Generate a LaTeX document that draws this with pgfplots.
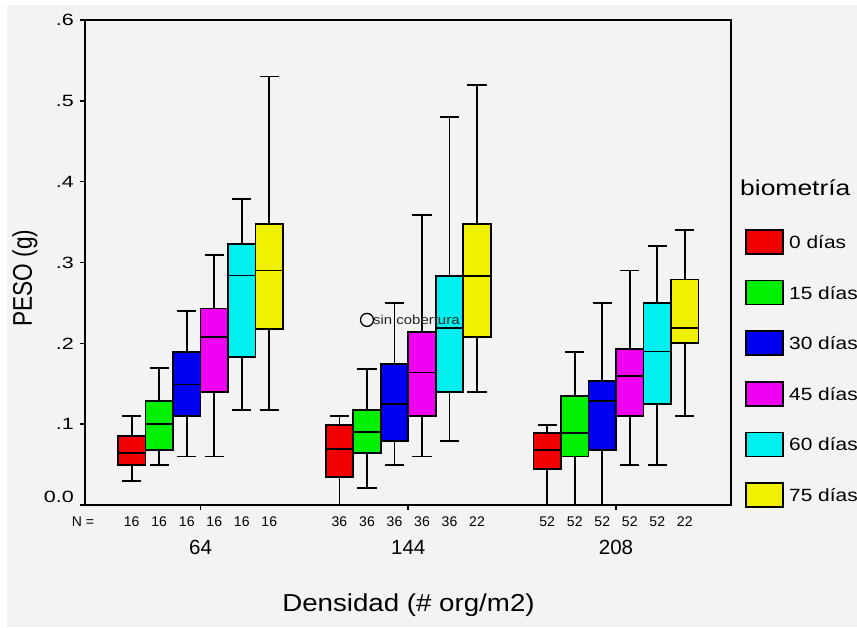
\documentclass[border=0pt]{standalone}
\usepackage{pgfplots}
\pgfplotsset{compat=1.18}
\usepgfplotslibrary{statistics}
\usepackage{graphicx}
\usepackage{fontspec}
\setmainfont{Liberation Sans}

\definecolor{bgc}{HTML}{F3F3F3}
\definecolor{cR}{HTML}{F00000}
\definecolor{cG}{HTML}{00F000}
\definecolor{cB}{HTML}{0000F0}
\definecolor{cM}{HTML}{F000F0}
\definecolor{cC}{HTML}{00F0F0}
\definecolor{cY}{HTML}{F0F000}

\newcommand{\fs}[1]{\fontsize{#1}{#1}\selectfont}
% horizontally stretched text
\newcommand{\sx}[2]{\scalebox{#1}[1]{#2}}

% one box: colour, position, lower whisker, lower quartile, median, upper quartile, upper whisker
\newcommand{\bx}[7]{%
  \addplot[draw=black, line width=1.8pt, fill=#1,
    boxplot prepared={draw position=#2, lower whisker=#3, lower quartile=#4,
      median=#5, upper quartile=#6, upper whisker=#7,
      box extend=0.1324, whisker extend=0.092}] coordinates {};}

\begin{document}
\begin{tikzpicture}
\clip (0pt,0pt) rectangle (857pt,627pt);
\fill[white] (0pt,0pt) rectangle (857pt,627pt);
\fill[bgc] (7pt,0pt) rectangle (857pt,622pt);

\begin{axis}[
  at={(85pt,122pt)}, anchor=south west,
  scale only axis, width=646pt, height=485pt,
  xmin=0.444, xmax=3.5535, ymin=0, ymax=0.6,
  axis line style={line width=1.8pt, black},
  xtick={1,2,3}, xticklabels={64,144,208},
  ytick={0,0.1,0.2,0.3,0.4,0.5,0.6},
  yticklabels={\raisebox{16pt}{\sx{1.32}{0.0}},\sx{1.32}{.1},\sx{1.32}{.2},\sx{1.32}{.3},
               \sx{1.32}{.4},\sx{1.32}{.5},\sx{1.32}{.6}},
  xtick pos=bottom, ytick pos=left,
  tick align=outside, major tick length=5pt,
  tick style={line width=1.6pt, black},
  xticklabel style={font=\fs{20.5}, anchor=center, yshift=-37pt},
  yticklabel style={font=\fs{16.3}, anchor=east, inner sep=0pt, xshift=-6pt},
  clip=false,
  boxplot/draw direction=y,
]
% 64 org/m2
\bx{cR}{0.6690}{0.030}{0.049}{0.064}{0.085}{0.110}
\bx{cG}{0.8014}{0.049}{0.068}{0.100}{0.129}{0.169}
\bx{cB}{0.9338}{0.060}{0.110}{0.149}{0.189}{0.240}
\bx{cM}{1.0662}{0.060}{0.140}{0.208}{0.243}{0.309}
\bx{cC}{1.1986}{0.118}{0.183}{0.284}{0.323}{0.379}
\bx{cY}{1.3310}{0.118}{0.218}{0.290}{0.348}{0.530}
% 144 org/m2
\bx{cR}{1.6690}{0.000}{0.035}{0.069}{0.099}{0.110}
\bx{cG}{1.8014}{0.021}{0.064}{0.090}{0.118}{0.168}
\bx{cB}{1.9338}{0.049}{0.079}{0.125}{0.174}{0.250}
\bx{cM}{2.0662}{0.060}{0.110}{0.164}{0.214}{0.359}
\bx{cC}{2.1986}{0.079}{0.140}{0.219}{0.283}{0.480}
\bx{cY}{2.3310}{0.140}{0.208}{0.283}{0.348}{0.520}
% 208 org/m2
\bx{cR}{2.6690}{0.000}{0.045}{0.068}{0.089}{0.099}
\bx{cG}{2.8014}{0.000}{0.060}{0.089}{0.135}{0.189}
\bx{cB}{2.9338}{0.000}{0.068}{0.129}{0.153}{0.250}
\bx{cM}{3.0662}{0.049}{0.110}{0.160}{0.193}{0.290}
\bx{cC}{3.1986}{0.049}{0.125}{0.190}{0.250}{0.320}
\bx{cY}{3.3310}{0.110}{0.200}{0.219}{0.279}{0.340}

% outlier
\addplot[only marks, mark=o, mark size=6.5pt, mark options={line width=1.3pt, black}]
  coordinates {(1.8014,0.229)};
\node[anchor=west, inner sep=0pt, font=\fs{13}, text=black!85] at (axis cs:1.8014,0.229) [xshift=6pt] {\sx{1.15}{sin cobertura}};

% case counts
\foreach \p/\n in {0.6690/16,0.8014/16,0.9338/16,1.0662/16,1.1986/16,1.3310/16,
                   1.6690/36,1.8014/36,1.9338/36,2.0662/36,2.1986/36,2.3310/22,
                   2.6690/52,2.8014/52,2.9338/52,3.0662/52,3.1986/52,3.3310/22}{
  \edef\tmp{\noexpand\node[font=\noexpand\fs{14}, inner sep=0pt] at (axis cs:\p,0) [yshift=-17pt] {\n};}\tmp
}
\end{axis}

\begin{scope}[x=1pt, y=1pt]
\node[font=\fs{14}, inner sep=0pt] at (83,105) {N =};
\node[font=\fs{27}, rotate=90, inner sep=0pt] at (25,349) {\sx{0.84}{PESO (g)}};
\node[font=\fs{24.5}, inner sep=0pt] at (408.5,22) {\sx{1.13}{Densidad (\# org/m2)}};

% legend
\node[font=\fs{21.5}, anchor=west, inner sep=0pt] at (740,439) {\sx{1.23}{biometría}};
\foreach \c/\t [count=\i from 0] in {cR/0 días,cG/15 días,cB/30 días,cM/45 días,cC/60 días,cY/75 días}{
  \pgfmathsetmacro\yc{385-50.6*\i}
  \draw[fill=\c, line width=1.6pt] (746,\yc-12) rectangle (783,\yc+12);
  \node[font=\fs{17.7}, anchor=west, inner sep=0pt] at (789,\yc) {\sx{1.18}{\t}};
}
\end{scope}
\end{tikzpicture}
\end{document}
